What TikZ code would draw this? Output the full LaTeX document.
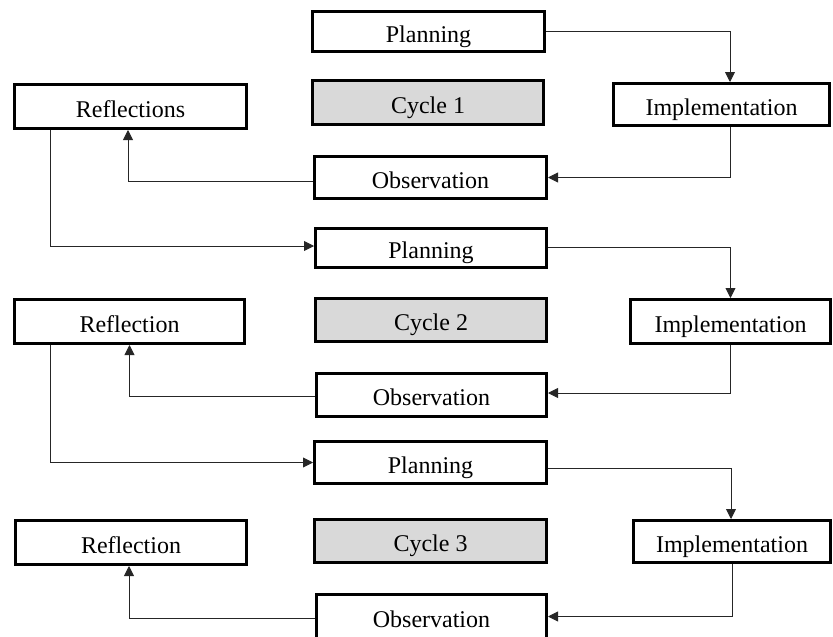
\documentclass[tikz,border=0pt]{standalone}
\usepackage{fontspec}
\setmainfont{Liberation Serif}
\usetikzlibrary{arrows.meta}
\definecolor{cyclegray}{HTML}{D9D9D9}
\tikzset{
  box/.style={draw=black, line width=3pt, fill=white, rectangle, inner sep=0pt,
    font=\fontsize{24}{28}\selectfont, text height=21pt, text depth=0pt},
  cyclebox/.style={box, fill=cyclegray},
  conn/.style={draw=black!85, line width=0.9pt, -{Triangle[length=10pt,width=10pt]}},
}
\begin{document}
\begin{tikzpicture}[x=1pt,y=-1pt]
\useasboundingbox (0,0) rectangle (833,637);
\clip (0,0) rectangle (833,637);
% Cycle 1
\node[box, minimum width=232pt, minimum height=40pt] (P1) at (428.5,31.5) {Planning};
\node[cyclebox, minimum width=231pt, minimum height=44pt] (C1) at (428,102.5) {Cycle 1};
\node[box, minimum width=232pt, minimum height=44pt] (R1) at (130.5,106.5) {Reflections};
\node[box, minimum width=216pt, minimum height=42pt] (I1) at (721.5,104.5) {Implementation};
\node[box, minimum width=232pt, minimum height=42pt] (O1) at (430.5,177.5) {Observation};
% Cycle 2
\node[box, minimum width=231pt, minimum height=39pt] (P2) at (431,248) {Planning};
\node[cyclebox, minimum width=231pt, minimum height=43pt] (C2) at (431,320) {Cycle 2};
\node[box, minimum width=230pt, minimum height=44pt] (R2) at (129.5,321.5) {Reflection};
\node[box, minimum width=200pt, minimum height=44pt] (I2) at (730.5,321.5) {Implementation};
\node[box, minimum width=230pt, minimum height=43pt] (O2) at (431.5,395) {Observation};
% Cycle 3
\node[box, minimum width=232pt, minimum height=42pt] (P3) at (430.5,462.5) {Planning};
\node[cyclebox, minimum width=232pt, minimum height=43pt] (C3) at (430.5,541) {Cycle 3};
\node[box, minimum width=231pt, minimum height=44pt] (R3) at (131,542.5) {Reflection};
\node[box, minimum width=197pt, minimum height=42pt] (I3) at (732,541.5) {Implementation};
\node[box, minimum width=230pt, minimum height=44pt] (O3) at (431.5,616.5) {Observation};
% Connectors cycle 1
\draw[conn] (P1.east) -| ([xshift=8.5pt]I1.north);
\draw[conn] ([xshift=8.5pt]I1.south) |- (O1.east);
\draw[conn] ([yshift=-3.5pt]O1.west) -| ([xshift=-2.5pt]R1.south);
\draw[conn] ([xshift=-80.5pt]R1.south) |- ([yshift=2pt]P2.west);
% Connectors cycle 2
\draw[conn] ([yshift=1pt]P2.east) -| (I2.north);
\draw[conn] (I2.south) |- ([yshift=2pt]O2.east);
\draw[conn] ([yshift=-1pt]O2.west) -| (R2.south);
\draw[conn] ([xshift=-79.5pt]R2.south) |- (P3.west);
% Connectors cycle 3
\draw[conn] ([yshift=-5.5pt]P3.east) -| ([xshift=-1pt]I3.north);
\draw[conn] (I3.south) |- (O3.east);
\draw[conn] ([yshift=-1.5pt]O3.west) -| ([xshift=-2pt]R3.south);
\end{tikzpicture}
\end{document}
